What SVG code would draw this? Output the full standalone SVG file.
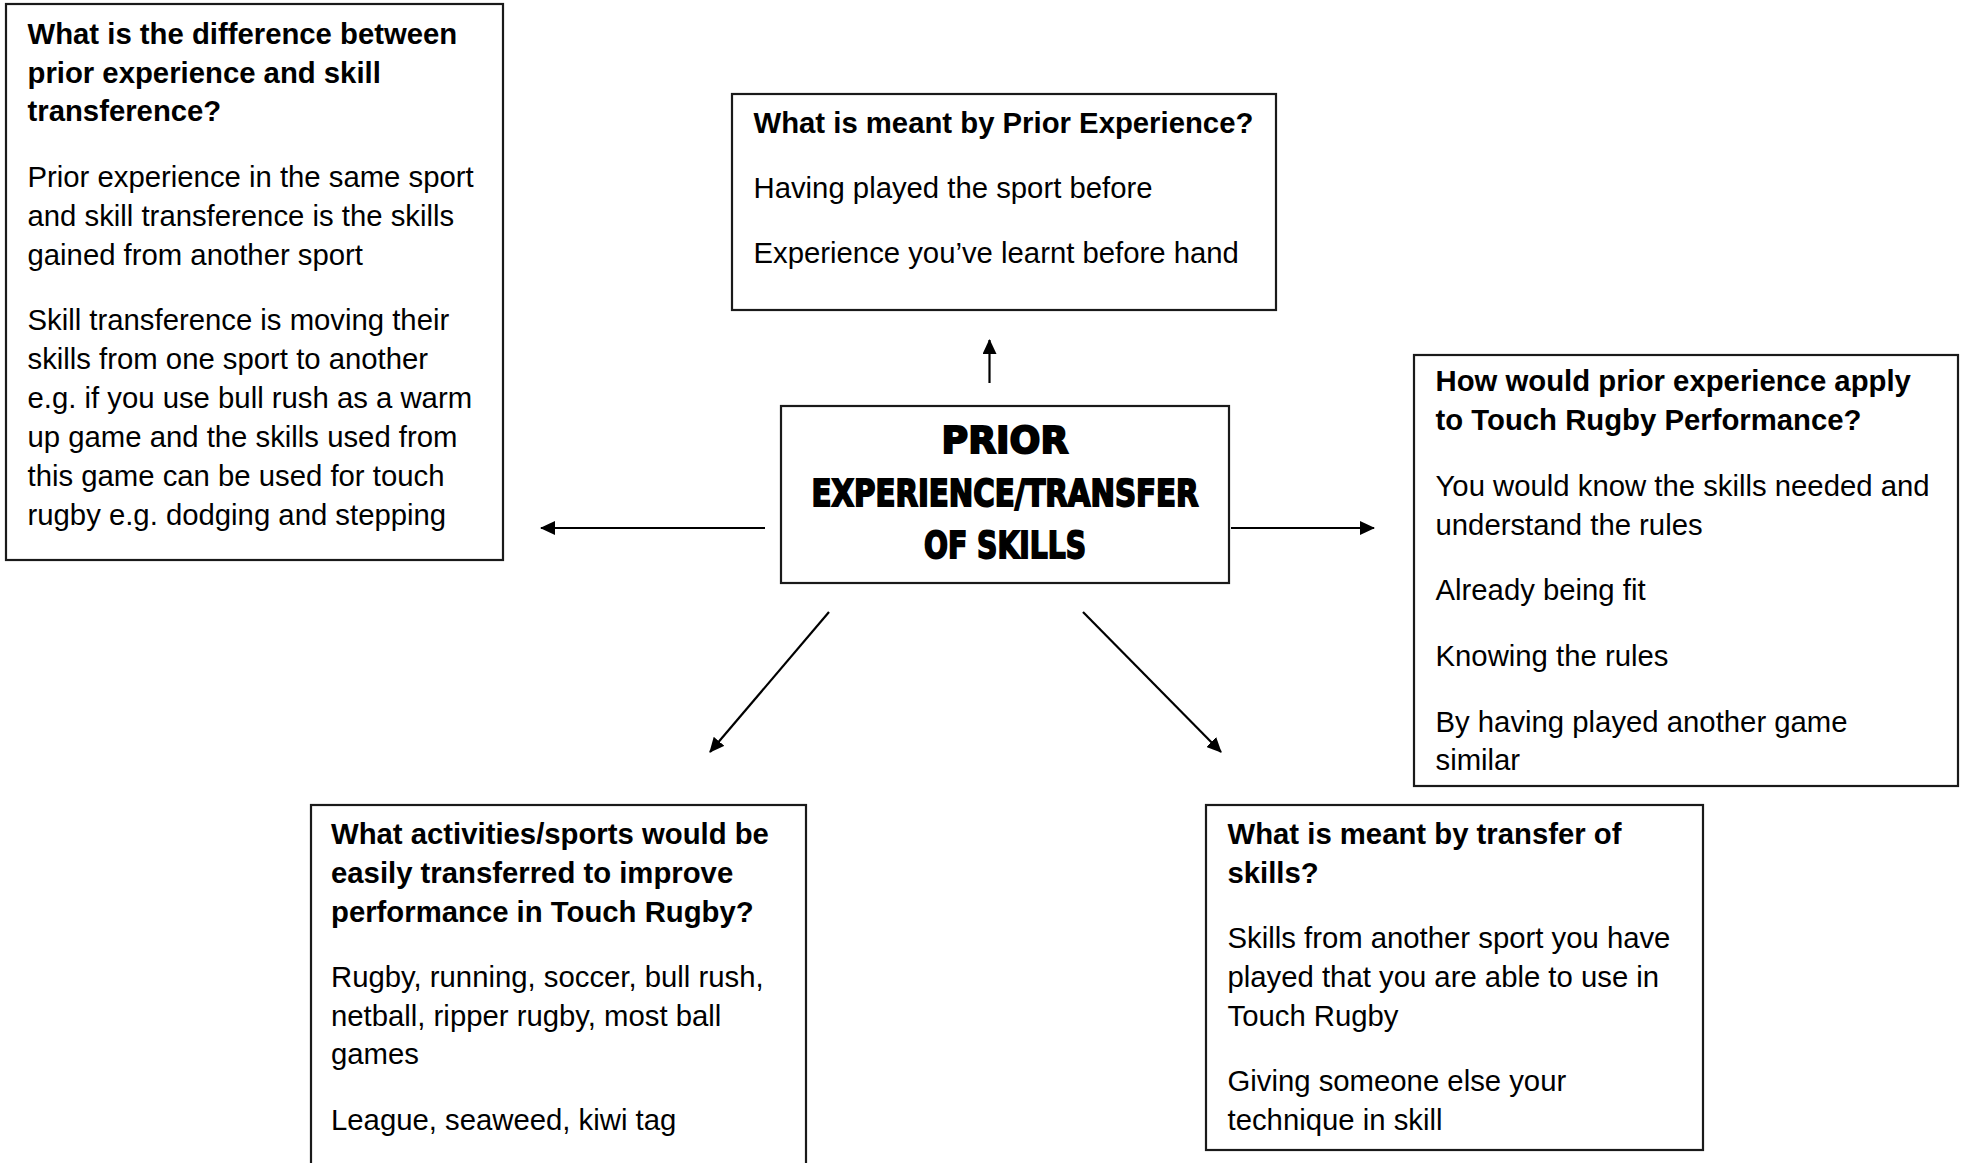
<svg xmlns="http://www.w3.org/2000/svg" width="1966" height="1163" viewBox="0 0 1966 1163">
<defs>
<style>
.box{fill:#fff;stroke:#1a1a1a;stroke-width:2.2}
.t{font-family:"Liberation Sans",Arial,sans-serif;font-size:29.3px;fill:#000}
.b{font-weight:bold}
.title{font-family:"DejaVu Sans","Liberation Sans",sans-serif;font-weight:900;font-size:38px;fill:#000;text-anchor:middle;stroke:#000;stroke-width:2}
.conn{stroke:#000;stroke-width:2.2;fill:none;marker-end:url(#ah)}
</style>
<marker id="ah" viewBox="0 0 15 14" refX="14" refY="7" markerWidth="15" markerHeight="14" orient="auto" markerUnits="userSpaceOnUse">
<path d="M0,0 L15,7 L0,14 z" fill="#000"/>
</marker>
</defs>
<rect width="1966" height="1163" fill="#fff"/>

<g id="connectors">
<line class="conn" x1="989.5" y1="383" x2="989.5" y2="340"/>
<line class="conn" x1="765" y1="528" x2="541" y2="528"/>
<line class="conn" x1="1231" y1="528" x2="1374" y2="528"/>
<line class="conn" x1="829" y1="612" x2="710" y2="752"/>
<line class="conn" x1="1083" y1="612" x2="1221" y2="752"/>
</g>

<g id="node-difference">
<rect class="box" x="6" y="4" width="497" height="556"/>
<text class="t b" x="27.5"><tspan x="27.5" y="44">What is the difference between</tspan><tspan x="27.5" y="83">prior experience and skill</tspan><tspan x="27.5" y="121">transference?</tspan></text>
<text class="t" x="27.5"><tspan x="27.5" y="187">Prior experience in the same sport</tspan><tspan x="27.5" y="226">and skill transference is the skills</tspan><tspan x="27.5" y="265">gained from another sport</tspan></text>
<text class="t" x="27.5"><tspan x="27.5" y="330">Skill transference is moving their</tspan><tspan x="27.5" y="369">skills from one sport to another</tspan><tspan x="27.5" y="408">e.g. if you use bull rush as a warm</tspan><tspan x="27.5" y="447">up game and the skills used from</tspan><tspan x="27.5" y="486">this game can be used for touch</tspan><tspan x="27.5" y="525">rugby e.g. dodging and stepping</tspan></text>
</g>

<g id="node-prior-experience">
<rect class="box" x="732" y="94" width="544" height="216"/>
<text class="t b" x="753.5" y="133">What is meant by Prior Experience?</text>
<text class="t" x="753.5" y="198">Having played the sport before</text>
<text class="t" x="753.5" y="263">Experience you’ve learnt before hand</text>
</g>

<g id="node-center">
<rect class="box" x="781" y="406" width="448" height="177"/>
<text class="title" x="1005" y="453" textLength="127" lengthAdjust="spacingAndGlyphs">PRIOR</text>
<text class="title" x="1005" y="506" textLength="387" lengthAdjust="spacingAndGlyphs">EXPERIENCE/TRANSFER</text>
<text class="title" x="1005" y="558" textLength="162" lengthAdjust="spacingAndGlyphs">OF SKILLS</text>
</g>

<g id="node-apply">
<rect class="box" x="1414" y="355" width="544" height="431"/>
<text class="t b" x="1435.5"><tspan x="1435.5" y="391">How would prior experience apply</tspan><tspan x="1435.5" y="430">to Touch Rugby Performance?</tspan></text>
<text class="t" x="1435.5"><tspan x="1435.5" y="496">You would know the skills needed and</tspan><tspan x="1435.5" y="535">understand the rules</tspan></text>
<text class="t" x="1435.5" y="600">Already being fit</text>
<text class="t" x="1435.5" y="666">Knowing the rules</text>
<text class="t" x="1435.5"><tspan x="1435.5" y="732">By having played another game</tspan><tspan x="1435.5" y="770">similar</tspan></text>
</g>

<g id="node-activities">
<rect class="box" x="311" y="805" width="495" height="370"/>
<text class="t b" x="331"><tspan x="331" y="844">What activities/sports would be</tspan><tspan x="331" y="883">easily transferred to improve</tspan><tspan x="331" y="922">performance in Touch Rugby?</tspan></text>
<text class="t" x="331"><tspan x="331" y="987">Rugby, running, soccer, bull rush,</tspan><tspan x="331" y="1026">netball, ripper rugby, most ball</tspan><tspan x="331" y="1064">games</tspan></text>
<text class="t" x="331" y="1130">League, seaweed, kiwi tag</text>
</g>

<g id="node-transfer">
<rect class="box" x="1206" y="805" width="497" height="345"/>
<text class="t b" x="1227.5"><tspan x="1227.5" y="844">What is meant by transfer of</tspan><tspan x="1227.5" y="883">skills?</tspan></text>
<text class="t" x="1227.5"><tspan x="1227.5" y="948">Skills from another sport you have</tspan><tspan x="1227.5" y="987">played that you are able to use in</tspan><tspan x="1227.5" y="1026">Touch Rugby</tspan></text>
<text class="t" x="1227.5"><tspan x="1227.5" y="1091">Giving someone else your</tspan><tspan x="1227.5" y="1130">technique in skill</tspan></text>
</g>
</svg>
